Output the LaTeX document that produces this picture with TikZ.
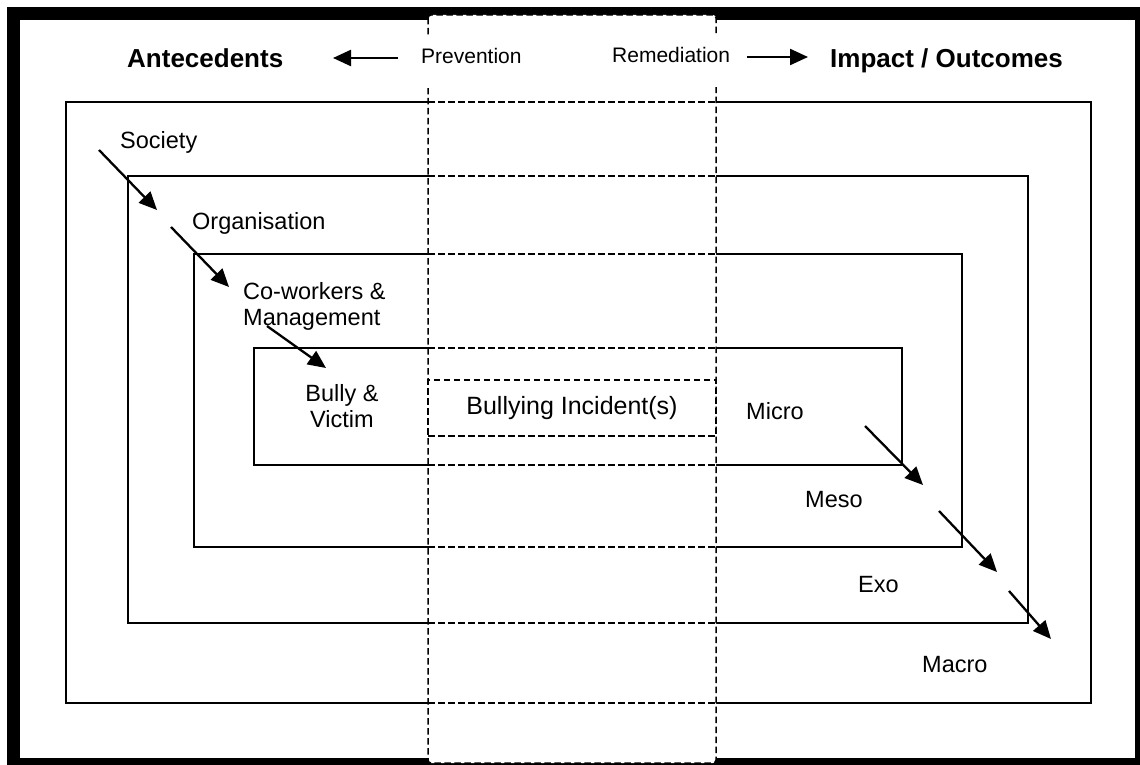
\documentclass[tikz,border=0pt]{standalone}
\usepackage{fontspec}
\setmainfont{Liberation Sans}
\usetikzlibrary{arrows.meta}
\tikzset{
  % style for the nested level boxes
  level box/.style={draw=black, line width=1.7pt},
  % style for the lines that cross the middle column
  cut line/.style={draw=black, line width=1.5pt, dash pattern=on 6.5pt off 3.5pt},
  % styles for the texts
  level label/.style={font=\fontsize{23.5}{26}\selectfont, inner sep=0pt},
  title label/.style={font=\fontsize{26}{30}\selectfont\bfseries, inner sep=0pt},
  side label/.style={font=\fontsize{21}{25}\selectfont, inner sep=0pt, fill=white,
    text height=29pt, text depth=24pt},
  % style for the arrows
  level arrow/.style={line width=2.3pt, -{Triangle[length=18pt,width=16pt]}},
}

\begin{document}
\begin{tikzpicture}[x=1pt,y=-1pt]
  \useasboundingbox (0,0) rectangle (1140,765);
  % Draw the thick outer frame
  \draw[line width=13pt] (13.5,14) rectangle (1141.5,764.5);
  % Draw the four nested levels
  \foreach \l/\t/\r/\b in {66/102/1091/703, 128/176/1028/623, 194/254/962/547, 254/348/902/465} {
    \draw[level box] (\l,\t) rectangle (\r,\b);
  }
  % Draw the middle column over them
  \draw[cut line, fill=white, rounded corners=3pt] (428,15) rectangle (716,763);
  \foreach \y in {102,176,254,348,465,547,623,703} {
    \draw[cut line] (428,\y) -- (716,\y);
  }
  \node[cut line, minimum width=288pt, minimum height=56pt, inner sep=0pt,
    font=\fontsize{25}{30}\selectfont] (incident) at (572,408) {Bullying Incident(s)};

  % Draw the titles
  \node[title label, anchor=base west] (antecedents) at (127,68) {Antecedents};
  \node[side label, anchor=base west] (prevention) at (421,64) {Prevention};
  \node[side label, anchor=base west] (remediation) at (612,63) {Remediation};
  \node[title label, anchor=base west] (impact) at (830,68) {Impact / Outcomes};
  \coordinate (prevention tail) at (398,58);
  \coordinate (antecedents tip) at (333,58);
  \coordinate (remediation tail) at (747,57);
  \coordinate (impact tip) at (808,57);
  \draw[level arrow] (prevention tail) -- (antecedents tip);
  \draw[level arrow] (remediation tail) -- (impact tip);

  % Draw the level labels
  \node[level label, anchor=base west] (society) at (120,148) {Society};
  \node[level label, anchor=base west] (organisation) at (192,229) {Organisation};
  \node[level label, anchor=base west, align=left] (coworkers) at (243,325) {Co-workers \&\\Management};
  \node[level label, anchor=base, align=center] (bully) at (342,427) {Bully \&\\Victim};
  \node[level label, anchor=base west] (micro) at (746,419) {Micro};
  \node[level label, anchor=base west] (meso) at (805,507) {Meso};
  \node[level label, anchor=base west] (exo) at (858,592) {Exo};
  \node[level label, anchor=base west] (macro) at (922,672) {Macro};

  % Draw the arrows between the levels
  \foreach \n/\xa/\ya/\xb/\yb in {1/99/150/157/210, 2/171/227/229/287, 3/267/326/326/368,
      4/865/426/923/485, 5/939/511/997/572, 6/1009/591/1051/639} {
    \coordinate (from\n) at (\xa,\ya);
    \coordinate (to\n) at (\xb,\yb);
    \draw[level arrow] (from\n) -- (to\n);
  }
\end{tikzpicture}
\end{document}
